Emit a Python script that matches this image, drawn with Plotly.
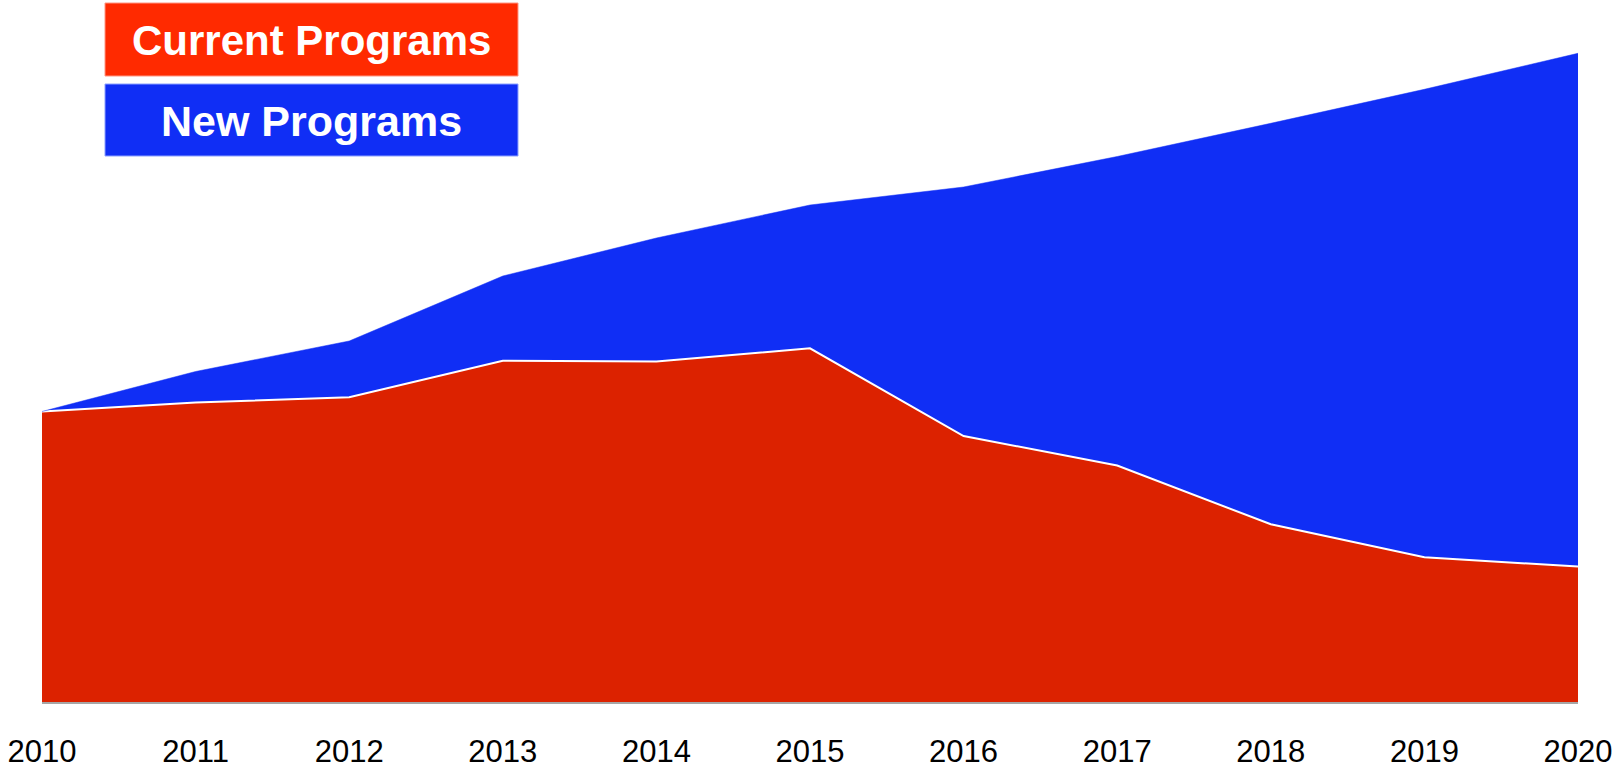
import plotly.graph_objects as go

years = [2010, 2011, 2012, 2013, 2014, 2015, 2016, 2017, 2018, 2019, 2020]
current_programs = [290.5, 299.5, 304.7, 341.3, 340.5, 353.7, 266.0, 236.5, 177.7, 144.7, 135.5]
new_programs = [0.0, 31.0, 56.3, 84.7, 123.5, 143.3, 249.0, 309.0, 401.0, 468.0, 513.2]
tick_labels = [str(y) for y in years]
legend_labels = ["Current Programs", "New Programs"]

RED_AREA = "#DC2200"
BLUE_AREA = "#102EF5"
RED_LEG = "#FF2A00"
BLUE_LEG = "#102EF5"

W, H = 1621, 768
L, R, T, B = 42, 43, 10, 66
plot_h = H - T - B

fig = go.Figure()
fig.add_trace(go.Scatter(
    x=years, y=current_programs, name=legend_labels[0], mode="lines",
    stackgroup="one", fillcolor=RED_AREA,
    line=dict(color="white", width=2), hoverinfo="skip",
))
fig.add_trace(go.Scatter(
    x=years, y=new_programs, name=legend_labels[1], mode="lines",
    stackgroup="one", fillcolor=BLUE_AREA,
    line=dict(color=BLUE_AREA, width=0.5), hoverinfo="skip",
))

def px_to_paper_x(px):
    return (px - L) / (W - L - R)

def px_to_paper_y(py):
    return (H - B - py) / plot_h

boxes = [
    (105, 3, 518, 76, RED_LEG, "rgba(255,150,130,1)", legend_labels[0], 42),
    (105, 84, 518, 156, BLUE_LEG, "rgba(140,160,255,1)", legend_labels[1], 43),
]
shapes = []
annotations = []
for x0, y0, x1, y1, fc, lc, txt, fs in boxes:
    shapes.append(dict(
        type="rect", xref="paper", yref="paper",
        x0=px_to_paper_x(x0), x1=px_to_paper_x(x1),
        y0=px_to_paper_y(y1), y1=px_to_paper_y(y0),
        fillcolor=fc, line=dict(color=lc, width=1), layer="above",
    ))
    annotations.append(dict(
        xref="paper", yref="paper",
        x=px_to_paper_x((x0 + x1) / 2), y=px_to_paper_y((y0 + y1) / 2 + 1),
        xanchor="center", yanchor="middle", showarrow=False,
        text=f"<b>{txt}</b>",
        font=dict(family="Liberation Sans, Arial, sans-serif", size=fs, color="white"),
    ))

fig.update_layout(
    width=W, height=H,
    margin=dict(l=L, r=R, t=T, b=B, pad=0, autoexpand=False),
    paper_bgcolor="white", plot_bgcolor="white",
    showlegend=False,
    shapes=shapes, annotations=annotations,
    xaxis=dict(
        range=[2010, 2020], tickvals=years, ticktext=tick_labels,
        showgrid=False, zeroline=False, automargin=False,
        showline=True, linecolor="#A6A6A6", linewidth=2,
        ticks="outside", ticklen=21, tickcolor="rgba(0,0,0,0)",
        tickfont=dict(family="Liberation Sans, Arial, sans-serif", size=31, color="black"),
    ),
    yaxis=dict(
        range=[0, plot_h], showgrid=False, zeroline=False, automargin=False,
        showticklabels=False, showline=False, ticks="",
    ),
)

fig.write_html("out.html")
